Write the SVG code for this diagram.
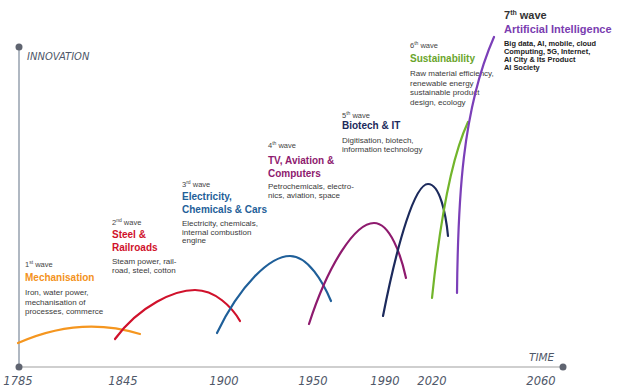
<svg xmlns="http://www.w3.org/2000/svg" width="618" height="391" viewBox="0 0 618 391">
<style>
.ax{font-family:"DejaVu Sans",Verdana,sans-serif;font-style:italic;fill:#4f5869}
.yr{font-size:11.5px;text-anchor:middle}
.wv{font-family:"Liberation Sans",Arial,sans-serif;font-size:7.5px;fill:#444}
.sup{font-size:5px}
.hd{font-family:"Liberation Sans",Arial,sans-serif;font-size:10px;font-weight:bold}
.ds{font-family:"Liberation Sans",Arial,sans-serif;font-size:8px;fill:#3a3a3a}
.ds7{font-family:"Liberation Sans",Arial,sans-serif;font-size:7.4px;font-weight:bold;fill:#222}
.cv{fill:none;stroke-width:2.2;stroke-linecap:round}
</style>
<rect width="618" height="391" fill="#ffffff"/>
<g id="axes">
<line x1="19" y1="47" x2="19" y2="367" stroke="#96a0ae" stroke-width="1.5"/>
<line x1="19" y1="367" x2="563" y2="367" stroke="#cfcfcf" stroke-width="2"/>
<circle cx="19" cy="47" r="3.5" fill="#5f6470"/>
<circle cx="19" cy="367" r="3.5" fill="#5f6470"/>
<circle cx="563" cy="367" r="3.5" fill="#5f6470"/>
<text class="ax" x="27" y="60" font-size="10">INNOVATION</text>
<text class="ax" x="529" y="361" font-size="10.5">TIME</text>
<text class="ax yr" x="18" y="385">1785</text>
<text class="ax yr" x="123" y="385">1845</text>
<text class="ax yr" x="224" y="385">1900</text>
<text class="ax yr" x="313" y="385">1950</text>
<text class="ax yr" x="385" y="385">1990</text>
<text class="ax yr" x="432" y="385">2020</text>
<text class="ax yr" x="541" y="385">2060</text>
</g>
<g id="wave1">
<text class="wv" x="25" y="267">1<tspan class="sup" dy="-3">st</tspan><tspan dy="3"> wave</tspan></text>
<text class="hd" x="25" y="281" fill="#f39221">Mechanisation</text>
<text class="ds" x="25" y="295">Iron, water power,</text>
<text class="ds" x="25" y="304.5">mechanisation of</text>
<text class="ds" x="25" y="314">processes, commerce</text>
</g>
<g id="wave2">
<text class="wv" x="112" y="225">2<tspan class="sup" dy="-3">nd</tspan><tspan dy="3"> wave</tspan></text>
<text class="hd" x="112" y="238" fill="#d0112b">Steel &amp;</text>
<text class="hd" x="112" y="251" fill="#d0112b">Railroads</text>
<text class="ds" x="112" y="264">Steam power, rail-</text>
<text class="ds" x="112" y="273">road, steel, cotton</text>
</g>
<g id="wave3">
<text class="wv" x="182" y="187">3<tspan class="sup" dy="-3">rd</tspan><tspan dy="3"> wave</tspan></text>
<text class="hd" x="182" y="200" fill="#1f5f99">Electricity,</text>
<text class="hd" x="182" y="213" fill="#1f5f99">Chemicals &amp; Cars</text>
<text class="ds" x="182" y="226">Electricity, chemicals,</text>
<text class="ds" x="182" y="234.5">internal combustion</text>
<text class="ds" x="182" y="243">engine</text>
</g>
<g id="wave4">
<text class="wv" x="268" y="148">4<tspan class="sup" dy="-3">th</tspan><tspan dy="3"> wave</tspan></text>
<text class="hd" x="268" y="164" fill="#8e1a6e">TV, Aviation &amp;</text>
<text class="hd" x="268" y="177" fill="#8e1a6e">Computers</text>
<text class="ds" x="268" y="188.5">Petrochemicals, electro-</text>
<text class="ds" x="268" y="198">nics, aviation, space</text>
</g>
<g id="wave5">
<text class="wv" x="342" y="118">5<tspan class="sup" dy="-3">th</tspan><tspan dy="3"> wave</tspan></text>
<text class="hd" x="342" y="129" fill="#1c2a5c">Biotech &amp; IT</text>
<text class="ds" x="342" y="143">Digitisation, biotech,</text>
<text class="ds" x="342" y="152">information technology</text>
</g>
<g id="wave6">
<text class="wv" x="410" y="48">6<tspan class="sup" dy="-3">th</tspan><tspan dy="3"> wave</tspan></text>
<text class="hd" x="410" y="62" fill="#6aa52c">Sustainability</text>
<text class="ds" x="410" y="76">Raw material efficiency,</text>
<text class="ds" x="410" y="85.5">renewable energy</text>
<text class="ds" x="410" y="95">sustainable product</text>
<text class="ds" x="410" y="104.5">design, ecology</text>
</g>
<g id="wave7">
<text x="504" y="19" font-family="Liberation Sans, Arial, sans-serif" font-size="11" font-weight="bold" fill="#333">7<tspan font-size="7" dy="-4">th</tspan><tspan dy="4"> wave</tspan></text>
<text class="hd" x="504" y="33" fill="#7a3db0" style="font-size:11px">Artificial Intelligence</text>
<text class="ds7" x="504" y="46">Big data, AI, mobile, cloud</text>
<text class="ds7" x="504" y="54">Computing, 5G, Internet,</text>
<text class="ds7" x="504" y="62">AI City &amp; Its Product</text>
<text class="ds7" x="504" y="70">AI Society</text>
</g>
<g id="curves">
<path class="cv" stroke="#f5961f" d="M18,343 Q80,315.5 140,334"/>
<path class="cv" stroke="#d0112b" d="M115,339 C140,305 175,290 195,290 C215,290 232,307 240,321"/>
<path class="cv" stroke="#1f5f99" d="M217,333 C240,285 270,256 290,256 C308,256 323,282 331,301"/>
<path class="cv" stroke="#8e1a6e" d="M309,324 C328,265 355,223 374,223 C390,223 401,255 406,278"/>
<path class="cv" stroke="#1c2a5c" d="M383,316 C398,240 415,184 428,184 C440,184 446,215 448,236"/>
<path class="cv" stroke="#72b52b" d="M432,298 C438,240 448,165 468,122"/>
<path class="cv" stroke="#7b3fb8" d="M457,293 C458,200 462,110 494,37"/>
</g>
</svg>
